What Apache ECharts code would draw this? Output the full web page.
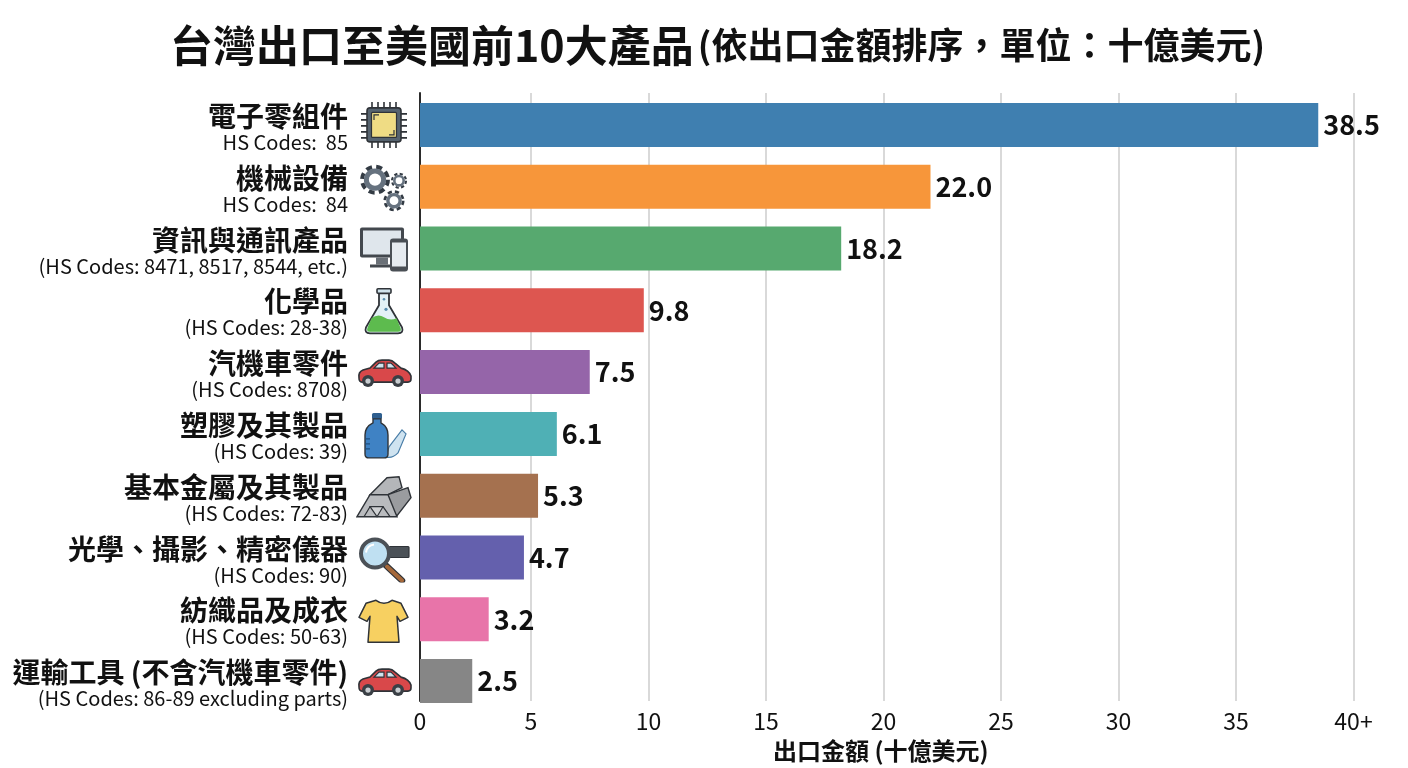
<!DOCTYPE html>
<html>
<head>
<meta charset="utf-8">
<title>台灣出口至美國前10大產品</title>
<script src="https://cdn.jsdelivr.net/npm/echarts@6/dist/echarts.min.js"></script>
<style>
  html, body { margin: 0; padding: 0; background: #fff; }
  #chart { width: 1408px; height: 768px; }
</style>
</head>
<body>
<div id="chart"></div>
<script>
const categories = ['電子零組件', '機械設備', '資訊與通訊產品', '化學品', '汽機車零件', '塑膠及其製品', '基本金屬及其製品', '光學、攝影、精密儀器', '紡織品及成衣', '運輸工具 (不含汽機車零件)'];
const hsCodes = ['HS Codes:  85', 'HS Codes:  84', '(HS Codes: 8471, 8517, 8544, etc.)', '(HS Codes: 28-38)', '(HS Codes: 8708)', '(HS Codes: 39)', '(HS Codes: 72-83)', '(HS Codes: 90)', '(HS Codes: 50-63)', '(HS Codes: 86-89 excluding parts)'];
const exportValues = [38.5, 22.0, 18.2, 9.8, 7.5, 6.1, 5.3, 4.7, 3.2, 2.5];
const barColors = ['#3f7fb0', '#f7963a', '#57a96f', '#dd5650', '#9565a9', '#4fb0b5', '#a5714f', '#6460ad', '#e874a9', '#868686'];
const xTickLabels = ['0', '5', '10', '15', '20', '25', '30', '35', '40+'];

const titleMain = '台灣出口至美國前10大產品';
// Full-width comma and colon are written as escapes to keep them unambiguous.
const titleSub = '(依出口金額排序\uFF0C單位\uFF1A十億美元)';

const FONT = '"Noto Sans CJK TC", "Noto Sans", sans-serif';
const INK = '#2f3338';

// Small pictograms shown next to each category name, 56 x 50 units.
const svg = body => 'data:image/svg+xml;charset=utf-8,' + encodeURIComponent(
  '<svg xmlns="http://www.w3.org/2000/svg" width="56" height="50" viewBox="0 0 56 50">' + body + '</svg>');

const gear = (cx, cy, r, w) =>
  `<circle cx="${cx}" cy="${cy}" r="${r * 1.08}" fill="none" stroke="#333b44" stroke-width="${w * 0.8}" stroke-dasharray="${r * 0.5} ${r * 0.36}"/>` +
  `<circle cx="${cx}" cy="${cy}" r="${r * 0.72}" fill="#fff" stroke="#66727f" stroke-width="${w}"/>`;

const chipPins = [15, 21, 27, 33, 39].map(p =>
  `<path d="M${p + 1} 2V48M5 ${p + 1 - 2}H51" stroke="${INK}" stroke-width="1.6"/>`).join('');

const carIcon = svg(
  `<path d="M3 31Q2 25 7 23L14 21L20 15Q22 13 26 13H33Q36 13 39 16L45 21Q53 23 55 29V32Q55 35 52 35H6Q3 35 3 31Z" fill="#d9484a" stroke="${INK}" stroke-width="1.6"/>` +
  `<path d="M18 21L23 16H28V21ZM31 16H35L40 21H31Z" fill="#cfe3ee" stroke="${INK}" stroke-width="1.2"/>` +
  `<circle cx="12" cy="34" r="6" fill="#3a3f45"/><circle cx="12" cy="34" r="2.6" fill="#c9cdd1"/>` +
  `<circle cx="42" cy="34" r="6" fill="#3a3f45"/><circle cx="42" cy="34" r="2.6" fill="#c9cdd1"/>`);

const icons = [
  svg(chipPins +
    `<rect x="11" y="8" width="34" height="34" rx="3" fill="#56636f" stroke="${INK}" stroke-width="1.6"/>` +
    `<rect x="15.5" y="12.5" width="25" height="25" rx="1" fill="#efdc84" stroke="${INK}" stroke-width="1.2"/>` +
    `<path d="M18 20V15H23M38 30V35H33" fill="none" stroke="${INK}" stroke-width="1.2"/>`),
  svg(gear(19, 18, 12, 5) + gear(43, 19, 6.5, 2.6) + gear(38, 39, 8.5, 3.4)),
  svg(`<rect x="4" y="4" width="44" height="30" rx="2" fill="#43484e"/><rect x="7" y="7" width="38" height="24" fill="#dfe6ec"/>` +
    `<rect x="20" y="34" width="12" height="7" fill="#6a7077"/><rect x="14" y="41" width="22" height="3" fill="#43484e"/>` +
    `<rect x="34" y="15" width="18" height="33" rx="3" fill="#4a4f55"/><rect x="36" y="19" width="14" height="24" fill="#e6ebf0"/>`),
  svg(`<path d="M23 8V20L10 42Q8 48 14 48H42Q48 48 46 42L33 20V8Z" fill="#e3f1f6" stroke="${INK}" stroke-width="1.8"/>` +
    `<path d="M15.5 33Q22 28 28 32T40.5 33L44.5 42.5Q46 46.5 42 46.5H14Q10 46.5 11.5 42.5Z" fill="#5dbb4e"/>` +
    `<rect x="21" y="3.5" width="14" height="4.5" rx="1" fill="#cfe3ec" stroke="${INK}" stroke-width="1.6"/>` +
    `<circle cx="28" cy="14" r="1.3" fill="#5a8fb0"/><circle cx="30" cy="24" r="1.6" fill="#5a8fb0"/>`),
  carIcon,
  svg(`<path d="M33 38L46 21L50 25L42 44Q36 50 30 48Z" fill="#cfe3f0" stroke="#4a7ea8" stroke-width="1.2"/>` +
    `<rect x="16" y="4" width="10" height="6" rx="1.5" fill="#2f5f8f"/>` +
    `<path d="M17 10H25V14Q32 18 32 26V45Q32 49 28 49H13Q9 49 9 45V26Q9 18 17 14Z" fill="#3f82c4" stroke="${INK}" stroke-width="1.4"/>` +
    `<path d="M9 30H14M9 35H14M9 40H14" stroke="#1f4f7f" stroke-width="1.2"/>`),
  svg(`<path d="M14 24L31 7L43 6L46 17L32 24Z" fill="#b4b6b9" stroke="${INK}" stroke-width="1.4"/>` +
    `<path d="M32 24L52 17L55 27L41 45L32 36Z" fill="#9a9c9f" stroke="${INK}" stroke-width="1.4"/>` +
    `<path d="M1 46L14 24H32L41 46Z" fill="#b9bbbe" stroke="${INK}" stroke-width="1.4"/>` +
    `<path d="M14 36H27L21 46ZM14 36L8 46M27 36L34 46" fill="#cfd1d3" stroke="${INK}" stroke-width="1.2"/>`),
  svg(`<rect x="33" y="14" width="20" height="11" rx="1" fill="#4b5157" stroke="${INK}" stroke-width="1.2"/>` +
    `<path d="M30 33L46 48" stroke="${INK}" stroke-width="6.5" stroke-linecap="round"/>` +
    `<path d="M31 34L46 48" stroke="#a5683a" stroke-width="4" stroke-linecap="round"/>` +
    `<circle cx="19" cy="21" r="14" fill="#bfe0f2" stroke="#4b5157" stroke-width="4"/>` +
    `<path d="M10 20Q11 13 18 12" fill="none" stroke="#fff" stroke-width="2"/>`),
  svg(`<path d="M20 6Q28 12 36 6L45 9L52 23L44 27L41 22L43 48H12L14 22L11 27L3 23L10 9Z" fill="#f7d061" stroke="${INK}" stroke-width="1.5" stroke-linejoin="round"/>`),
  carIcon
];

const iconRich = {};
icons.forEach((image, i) => {
  iconRich['ic' + i] = { width: 56, height: 50, backgroundColor: { image } };
});

// The vertical axis line sits a little to the right of the scale's true zero,
// so the plot starts just above 0 and the first tick is labelled "0" there.
const GRID_LEFT = 420;
const GRID_WIDTH = 933.5;
const X_START = 0.277;
const X_RANGE = { min: X_START, max: 40 };
const xTickValues = [X_START, 5, 10, 15, 20, 25, 30, 35, 40];

const chart = echarts.init(document.getElementById('chart'));
chart.setOption({
  backgroundColor: '#ffffff',
  animation: false,
  textStyle: { fontFamily: FONT },
  title: {
    left: 165,
    top: 19,
    text: `{main|${titleMain}} {sub|${titleSub}}`,
    textStyle: {
      rich: {
        main: { fontFamily: FONT, fontSize: 43, fontWeight: 'bold', color: '#111' },
        sub: { fontFamily: FONT, fontSize: 36, fontWeight: 'bold', color: '#111' }
      }
    }
  },
  // Grid 0 carries the frame and value scale; grid 1 carries the bars and category rows.
  grid: [
    { left: GRID_LEFT, width: GRID_WIDTH, top: 93, height: 610 },
    { left: GRID_LEFT, width: GRID_WIDTH, top: 94, height: 618 }
  ],
  xAxis: [
    {
      gridIndex: 0, type: 'value', ...X_RANGE,
      name: '出口金額 (十億美元)',
      nameLocation: 'middle',
      nameGap: 38,
      nameTextStyle: { fontFamily: FONT, fontSize: 24, fontWeight: 'bold', color: '#111', padding: [0, 12, 0, 0] },
      axisLine: { show: false },
      axisTick: { show: false, customValues: xTickValues },
      axisLabel: {
        margin: 9, fontFamily: FONT, fontSize: 23, color: '#111',
        customValues: xTickValues,
        formatter: (v) => xTickLabels[xTickValues.indexOf(v)]
      },
      splitLine: { show: true, lineStyle: { color: '#cccccc', width: 1.5 } }
    },
    { gridIndex: 1, type: 'value', ...X_RANGE, show: false, splitLine: { show: false } }
  ],
  yAxis: [
    {
      gridIndex: 0, type: 'value', min: 0, max: 1,
      axisLine: { show: true, onZero: false, lineStyle: { color: '#2b2b2b', width: 2 } },
      axisTick: { show: false }, axisLabel: { show: false }, splitLine: { show: false }
    },
    {
      gridIndex: 1, type: 'category', inverse: true, data: categories,
      axisLine: { show: false }, axisTick: { show: false },
      axisLabel: {
        margin: 72,
        align: 'right',
        padding: [5, 0, 0, 0],
        formatter: (name, i) => `{name|${name}}\n{code|${hsCodes[i]}}`,
        rich: {
          name: { fontFamily: FONT, fontSize: 28, fontWeight: 'bold', color: '#111', lineHeight: 30, align: 'right' },
          code: { fontFamily: FONT, fontSize: 20, color: '#111', lineHeight: 22, align: 'right' }
        }
      }
    },
    {
      gridIndex: 1, type: 'category', inverse: true, position: 'left', data: categories,
      axisLine: { show: false }, axisTick: { show: false },
      axisLabel: {
        margin: 8,
        formatter: (name, i) => `{ic${i}|}`,
        rich: iconRich
      }
    }
  ],
  series: [{
    type: 'bar',
    xAxisIndex: 1,
    yAxisIndex: 1,
    barWidth: 44,
    data: exportValues.map((value, i) => ({ value, itemStyle: { color: barColors[i] } })),
    label: {
      show: true,
      position: 'right',
      distance: 5,
      fontFamily: FONT,
      fontSize: 27,
      fontWeight: 'bold',
      color: '#111',
      formatter: (p) => p.value.toFixed(1)
    }
  }]
});
</script>
</body>
</html>
